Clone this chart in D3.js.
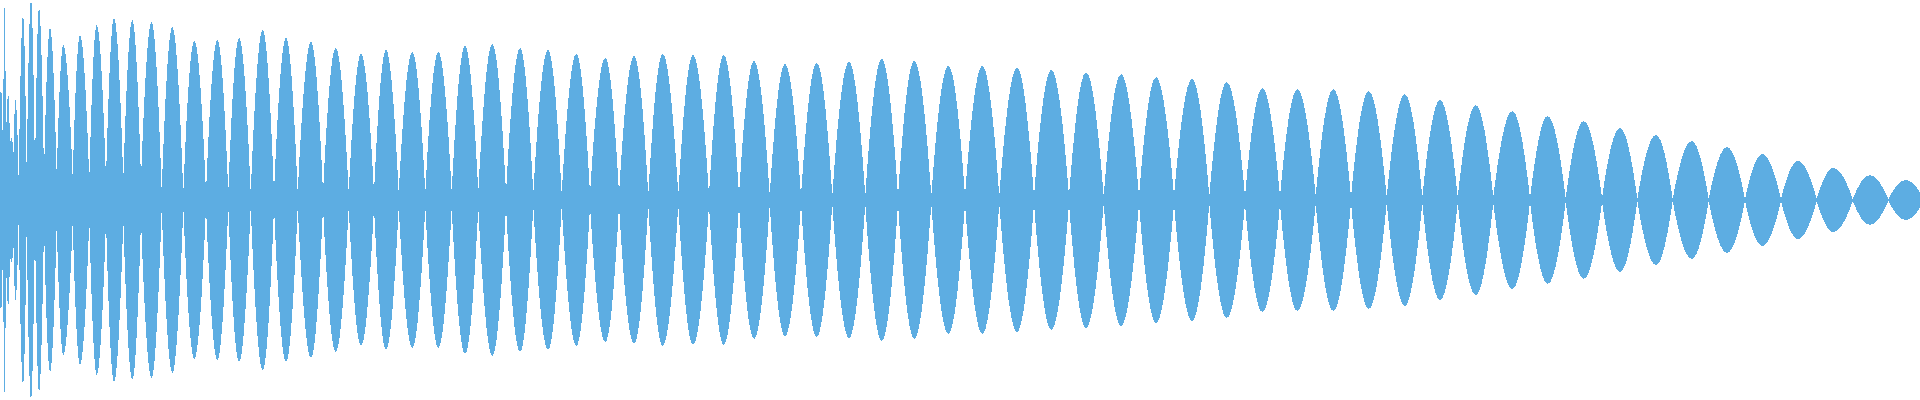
<!DOCTYPE html>
<html><head><meta charset="utf-8">
<script src="https://cdn.jsdelivr.net/npm/d3@7"></script>
<style>html,body{margin:0;padding:0;background:#fff;overflow:hidden}</style>
</head><body>
<svg id="chart" width="1920" height="400"></svg>
<script>
// Positions of the envelope minima (lobe boundaries), in time units
const zeroT = [0, 3, 6, 10, 13.5,
  18.7, 26.7, 35, 44, 56.7, 72.7, 89.3, 106, 123.3, 141,
  161.7, 183.3, 206, 228.3, 250.7, 274, 297.7, 323, 348.7, 374,
  398.7, 425.3, 451.7, 478.3, 506, 533.3, 561.7, 590, 619, 648.3,
  678.3, 709, 739, 769.7, 801, 832.3, 865.3, 898, 931.3, 965,
  999.3, 1034, 1069, 1103.7, 1139, 1174, 1209.3, 1245, 1280, 1315.7,
  1351, 1386.7, 1422.3, 1457.7, 1493.3, 1530, 1565.7, 1602, 1637.3, 1672.7,
  1708.7, 1745, 1781, 1816.7, 1852.7, 1888.3, 1924];
// Envelope amplitude at those minima
const zeroAmp = [0.53, 0.2, 0.3, 0.28, 0.24,
  0.085, 0.12, 0.12, 0.12, 0.12, 0.11, 0.1, 0.1, 0.1, 0.1,
  0.04, 0.035, 0.035, 0.035, 0.035, 0.035, 0.035, 0.035, 0.035, 0.035,
  0.035, 0.035, 0.04, 0.04, 0.035, 0.03, 0.03, 0.03, 0.03, 0.025,
  0.025, 0.025, 0.025, 0.025, 0.02, 0.02, 0.02, 0.02, 0.02, 0.02,
  0.02, 0.02, 0.02, 0.02, 0.02, 0.02, 0.02, 0.02, 0.02, 0.02,
  0.015, 0.015, 0.015, 0.015, 0.015, 0.01, 0.01, 0.01, 0.005, 0.005,
  0.005, 0.005, 0.005, 0.005, 0.005, 0.005, 0];
// Positions of the envelope maxima (lobe peaks)
const peakT = [1.2, 4.5, 8.2, 11.5, 15.5,
  23, 31, 39, 50, 63.3, 80, 96.7, 114, 132.3, 151.5,
  172.3, 194.3, 217.3, 239, 262.7, 286, 311, 335.7, 361, 386,
  412.3, 438.3, 465, 492.3, 520, 548, 576.3, 605.3, 634, 662.7,
  693, 723.7, 754, 785, 816.7, 849, 881.7, 914.3, 948.3, 982.3,
  1017, 1051.3, 1086, 1121, 1156, 1192, 1226.7, 1262.3, 1297.3, 1333.3,
  1368.7, 1404.7, 1440, 1475.7, 1512.3, 1547.7, 1583.7, 1620, 1656, 1691.7,
  1727, 1762.3, 1798, 1833.3, 1870, 1906];
// Envelope amplitude at the peaks
const peakAmp = [0.55, 0.96, 0.53, 0.31, 0.5,
  0.925, 1.0, 0.96, 0.86, 0.775, 0.825, 0.875, 0.91, 0.9, 0.89,
  0.865, 0.795, 0.80, 0.81, 0.85, 0.81, 0.79, 0.76, 0.73, 0.75,
  0.74, 0.74, 0.77, 0.78, 0.76, 0.75, 0.73, 0.71, 0.72, 0.73,
  0.725, 0.725, 0.695, 0.68, 0.685, 0.69, 0.705, 0.695, 0.67, 0.67,
  0.66, 0.65, 0.64, 0.63, 0.615, 0.605, 0.59, 0.56, 0.555, 0.555,
  0.545, 0.53, 0.50, 0.475, 0.445, 0.42, 0.395, 0.36, 0.325, 0.295,
  0.265, 0.23, 0.195, 0.16, 0.125, 0.10];

const W = 1920, H = 400;
const svg = d3.select("#chart");
const x = d3.scaleLinear().domain([0, 1920]).range([0, W]);
const y = d3.scaleLinear().domain([-1, 1]).range([H, 0]);

// Curve for an envelope lobe: angled sides at the minima, flat at the peak
function curveLobe(context) {
  const k = 1.8;
  let line, pts;
  return {
    areaStart() { line = 0; },
    areaEnd() { line = NaN; },
    lineStart() { pts = []; },
    point(px, py) { pts.push([+px, +py]); },
    lineEnd() {
      const n = pts.length;
      if (n) {
        line ? context.lineTo(pts[0][0], pts[0][1]) : context.moveTo(pts[0][0], pts[0][1]);
        const m = pts.map(() => 0);
        if (n > 1) {
          m[0] = k * (pts[1][1] - pts[0][1]) / (pts[1][0] - pts[0][0]);
          m[n - 1] = k * (pts[n - 1][1] - pts[n - 2][1]) / (pts[n - 1][0] - pts[n - 2][0]);
        }
        for (let i = 0; i < n - 1; i++) {
          const [x0, y0] = pts[i], [x1, y1] = pts[i + 1];
          const h = (x1 - x0) / 3;
          context.bezierCurveTo(x0 + h, y0 + m[i] * h, x1 - h, y1 - m[i + 1] * h, x1, y1);
        }
      }
      if (line || (line !== 0 && n === 1)) context.closePath();
      line = 1 - line;
    }
  };
}

const area = d3.area()
  .x(d => x(d.t))
  .y0(d => y(-d.a))
  .y1(d => y(d.a))
  .curve(curveLobe);

const lobes = peakT.map((t, i) => [
  {t: zeroT[i], a: zeroAmp[i]},
  {t: t, a: peakAmp[i]},
  {t: zeroT[i + 1], a: zeroAmp[i + 1]}
]);

svg.append("path")
  .attr("d", lobes.map(l => area(l)).join(""))
  .attr("fill", "#5DADE2")
  .attr("shape-rendering", "crispEdges");
</script>
</body></html>
